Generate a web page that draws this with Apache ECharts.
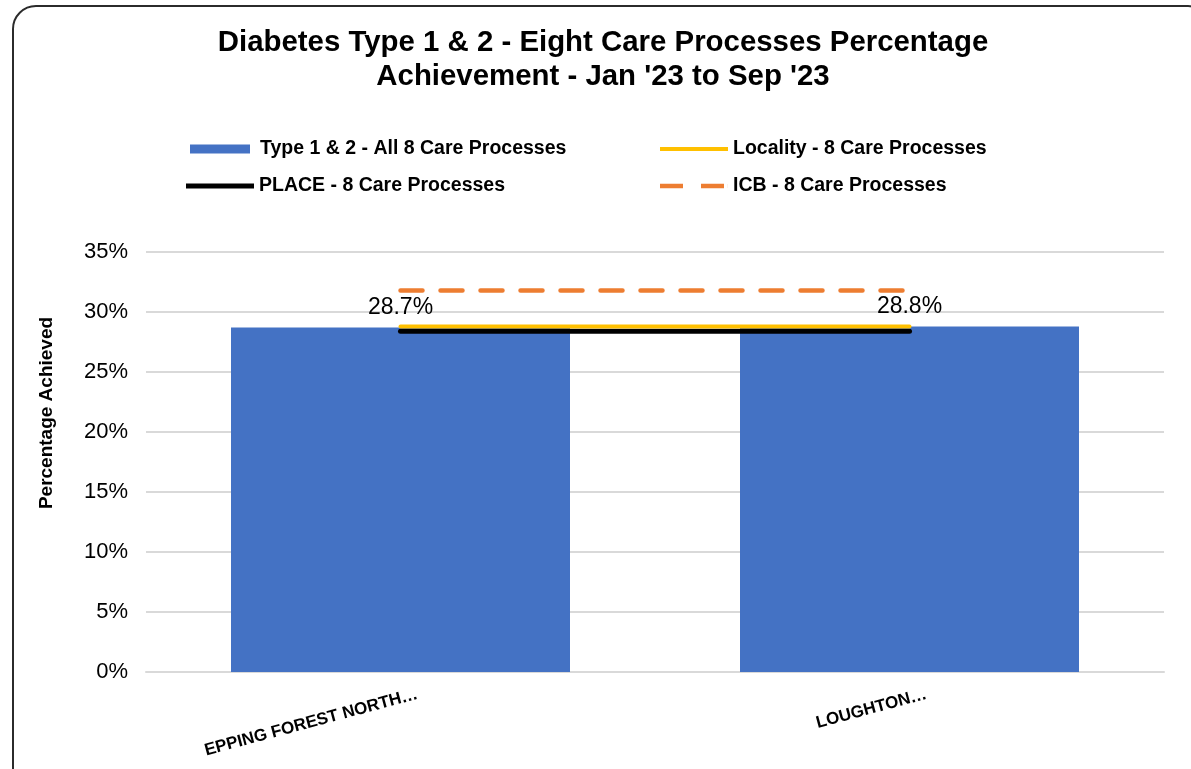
<!DOCTYPE html>
<html>
<head>
<meta charset="utf-8">
<script src="https://cdn.jsdelivr.net/npm/echarts@6/dist/echarts.min.js"></script>
<style>
  html, body { margin: 0; padding: 0; background: #fff; overflow: hidden; }
  #chart { position: absolute; left: 0; top: 0; width: 1191px; height: 769px; }
  #frame { position: absolute; left: 12px; top: 5px; width: 1200px; height: 800px;
           border: 2.5px solid #2b2b2b; border-radius: 24px; pointer-events: none; box-sizing: border-box; }
</style>
</head>
<body>
<div id="chart"></div>
<div id="frame"></div>
<script>
const titleText = "Diabetes Type 1 & 2 - Eight Care Processes Percentage\nAchievement - Jan '23 to Sep '23";
const categories = ["EPPING FOREST NORTH\u2026", "LOUGHTON\u2026"];
const barName = "Type 1 & 2 - All 8 Care Processes";
const barValues = [28.7, 28.8];
const localityName = "Locality - 8 Care Processes";
const localityValues = [28.8, 28.8];
const placeName = "PLACE - 8 Care Processes";
const placeValues = [28.4, 28.4];
const icbName = "ICB - 8 Care Processes";
const icbValues = [31.8, 31.8];
const yAxisName = "Percentage Achieved";
const yMin = 0, yMax = 35, yInterval = 5;

const FONT = "'Liberation Sans', Arial, sans-serif";
const chart = echarts.init(document.getElementById('chart'), null, { renderer: 'canvas' });

function legendAt(name, icon, color, left, top, w, h, gap) {
  return {
    data: [{ name: name, icon: icon, itemStyle: { color: color, borderWidth: 0 } }],
    left: left, top: top, itemWidth: w, itemHeight: h, padding: 0,
    textStyle: { fontFamily: FONT, fontWeight: 'bold', fontSize: 19.5, color: '#000', padding: [0, 0, 0, gap] },
    selectedMode: false
  };
}

chart.setOption({
  animation: false,
  title: {
    text: titleText, left: 603, textAlign: 'center', top: 26, padding: 0,
    textStyle: { fontFamily: FONT, fontWeight: 'bold', fontSize: 29.4, lineHeight: 34, color: '#000' }
  },
  legend: [
    legendAt(barName, 'rect', '#4472C4', 190, 139, 60, 9, 5),
    legendAt(localityName, 'path://M0,0h68v4h-68z', '#FFC000', 660, 139, 68, 4, 0),
    legendAt(placeName, 'path://M0,0h68v5h-68z', '#000000', 186, 176, 68, 5, 0),
    legendAt(icbName, 'path://M0,0h23v4.5h-23z M41,0h23v4.5h-23z M67.9,0h0.1v4.5h-0.1z', '#ED7D31', 660, 176, 68, 4.5, 0)
  ],
  grid: [
    { left: 146, right: 27, top: 252, bottom: 97 },
    { left: 163, right: 10, top: 252, bottom: 97 }
  ],
  xAxis: [
    { type: 'category', data: categories, gridIndex: 0,
      axisLine: { show: true, lineStyle: { color: '#d9d9d9', width: 2 } },
      axisTick: { show: false }, axisLabel: { show: false } },
    { type: 'category', data: categories, gridIndex: 1,
      axisLine: { show: false }, axisTick: { show: false },
      axisLabel: { rotate: 15, margin: 22, fontFamily: FONT, fontWeight: 'bold', fontSize: 17, color: '#000', interval: 0 } }
  ],
  yAxis: [
    { type: 'value', gridIndex: 0, min: yMin, max: yMax, interval: yInterval,
      name: yAxisName, nameLocation: 'middle', nameGap: 90, nameRotate: 90,
      nameTextStyle: { fontFamily: FONT, fontWeight: 'bold', fontSize: 19, color: '#000', padding: [0, 0, 0, 98] },
      axisLine: { show: false }, axisTick: { show: false },
      axisLabel: { formatter: '{value}%', margin: 18, fontFamily: FONT, fontSize: 22, color: '#000' },
      splitLine: { lineStyle: { color: '#d9d9d9', width: 2 } } },
    { type: 'value', gridIndex: 1, min: yMin, max: yMax, show: false, splitLine: { show: false } }
  ],
  series: [
    { name: barName, type: 'bar', data: barValues, barWidth: '66.6%',
      itemStyle: { color: '#4472C4' },
      label: { show: true, position: 'top', distance: 8, fontFamily: FONT, fontSize: 23, color: '#000',
               formatter: p => p.value.toFixed(1) + '%' } },
    { name: placeName, type: 'line', data: placeValues, symbol: 'none',
      lineStyle: { color: '#000000', width: 5, cap: 'round' }, itemStyle: { color: '#000000' } },
    { name: localityName, type: 'line', data: localityValues, symbol: 'none',
      lineStyle: { color: '#FFC000', width: 4, cap: 'round' }, itemStyle: { color: '#FFC000' } },
    { name: icbName, type: 'line', data: icbValues, symbol: 'none',
      lineStyle: { color: '#ED7D31', width: 4.5, type: [22, 18], cap: 'round' }, itemStyle: { color: '#ED7D31' } }
  ]
});
</script>
</body>
</html>
